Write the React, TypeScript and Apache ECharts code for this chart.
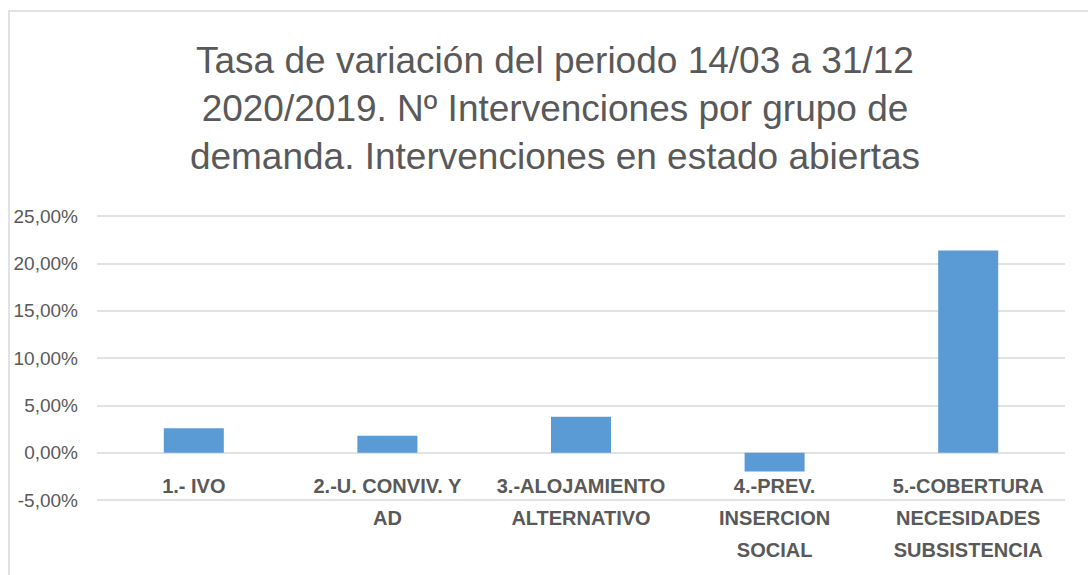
import React, { useEffect, useRef } from "react";
import * as echarts from "echarts";

const categories: string[] = [
  "1.- IVO",
  "2.-U. CONVIV. Y AD",
  "3.-ALOJAMIENTO ALTERNATIVO",
  "4.-PREV. INSERCION SOCIAL",
  "5.-COBERTURA NECESIDADES SUBSISTENCIA",
];

const values: number[] = [2.57, 1.8, 3.8, -1.98, 21.35];

const titleLines: string[] = [
  "Tasa de variación del periodo 14/03 a 31/12",
  "2020/2019. Nº Intervenciones por grupo de",
  "demanda. Intervenciones en estado abiertas",
];

const yMin = -5;
const yMax = 25;
const yStep = 5;

const FONT = "'Liberation Sans', Arial, sans-serif";

function wrapLabel(s: string, maxChars: number): string {
  const words = s.split(" ");
  const lines: string[] = [];
  let cur = "";
  for (const w of words) {
    if (!cur) cur = w;
    else if ((cur + " " + w).length <= maxChars) cur += " " + w;
    else {
      lines.push(cur);
      cur = w;
    }
  }
  if (cur) lines.push(cur);
  return lines.join("\n");
}

export default function App() {
  const ref = useRef<HTMLDivElement>(null);

  useEffect(() => {
    if (!ref.current) return;
    const chart = echarts.init(ref.current, undefined, { renderer: "svg" });
    chart.setOption({
      animation: false,
      backgroundColor: "#ffffff",
      graphic: [
        {
          type: "rect",
          shape: { x: 9, y: 11, width: 1200, height: 700 },
          style: { fill: "none", stroke: "#d9d9d9", lineWidth: 1.5 },
          silent: true,
        },
      ],
      title: {
        text: titleLines.join("\n"),
        left: 555,
        top: 36,
        padding: 0,
        textAlign: "center",
        textStyle: {
          fontFamily: FONT,
          fontSize: 37,
          fontWeight: "normal",
          color: "#595959",
          lineHeight: 48,
        },
      },
      grid: {
        left: 97,
        right: 23,
        top: 216,
        bottom: 75,
        containLabel: false,
        outerBoundsMode: "none",
      },
      xAxis: {
        type: "category",
        data: categories,
        axisLine: { show: false, onZero: false },
        axisTick: { show: false },
        axisLabel: {
          interval: 0,
          margin: -30,
          fontFamily: FONT,
          fontSize: 20,
          fontWeight: "bold",
          color: "#595959",
          lineHeight: 32,
          verticalAlign: "top",
          formatter: (v: string) => wrapLabel(v, 15),
        },
      },
      yAxis: {
        type: "value",
        min: yMin,
        max: yMax,
        interval: yStep,
        axisLine: { show: false },
        axisTick: { show: false },
        splitLine: { lineStyle: { color: "#d9d9d9", width: 1.5 } },
        axisLabel: {
          margin: 19,
          fontFamily: FONT,
          fontSize: 19,
          color: "#595959",
          formatter: (v: number) => v.toFixed(2).replace(".", ",") + "%",
        },
      },
      series: [
        {
          type: "bar",
          data: values,
          barWidth: "31%",
          itemStyle: { color: "#5b9bd5" },
        },
      ],
    });
    return () => chart.dispose();
  }, []);

  return (
    <div
      ref={ref}
      style={{ position: "fixed", left: 0, top: 0, width: 1088, height: 575 }}
    />
  );
}
